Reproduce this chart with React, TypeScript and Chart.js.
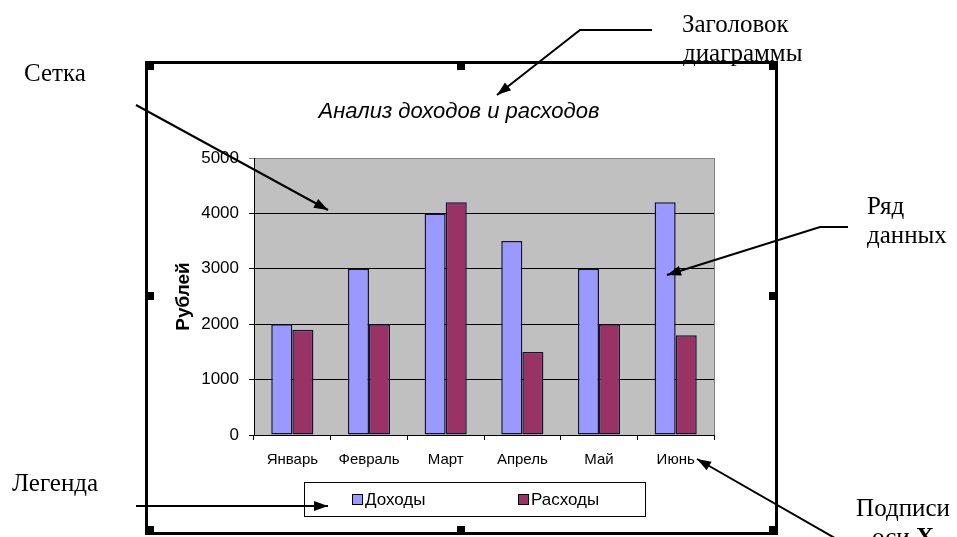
import React, { useEffect, useRef } from 'react';
import { Chart, registerables } from 'chart.js';

Chart.register(...registerables);

// ---- data ----
const categories = ['Январь', 'Февраль', 'Март', 'Апрель', 'Май', 'Июнь'];
const incomeValues = [2000, 3000, 4000, 3500, 3000, 4200];
const expenseValues = [1900, 2000, 4200, 1500, 2000, 1800];
const seriesNames = ['Доходы', 'Расходы'];
const yMin = 0;
const yMax = 5000;
const yStep = 1000;
const chartTitle = 'Анализ доходов и расходов';
const yAxisTitle = 'Рублей';
const noteTitle = ['Заголовок', 'диаграммы'];
const noteGrid = ['Сетка'];
const noteSeries = ['Ряд', 'данных'];
const noteLegend = ['Легенда'];
const noteAxis = ['Подписи', 'оси '];
const noteAxisBold = 'X';

const SANS = '"Liberation Sans", Arial, sans-serif';
const SERIF = '"Liberation Serif", "Times New Roman", serif';
const colors = ['#9999ff', '#993366'];

function drawArrow(ctx: CanvasRenderingContext2D, pts: number[][]) {
  ctx.save();
  ctx.strokeStyle = '#000';
  ctx.fillStyle = '#000';
  ctx.lineWidth = 2;
  ctx.beginPath();
  ctx.moveTo(pts[0][0], pts[0][1]);
  for (let i = 1; i < pts.length; i++) ctx.lineTo(pts[i][0], pts[i][1]);
  ctx.stroke();
  const [x1, y1] = pts[pts.length - 2];
  const [x2, y2] = pts[pts.length - 1];
  const a = Math.atan2(y2 - y1, x2 - x1);
  const L = 14, W = 5;
  ctx.beginPath();
  ctx.moveTo(x2, y2);
  ctx.lineTo(x2 - L * Math.cos(a) + W * Math.sin(a), y2 - L * Math.sin(a) - W * Math.cos(a));
  ctx.lineTo(x2 - L * Math.cos(a) - W * Math.sin(a), y2 - L * Math.sin(a) + W * Math.cos(a));
  ctx.closePath();
  ctx.fill();
  ctx.restore();
}

const decorPlugin = {
  id: 'decor',
  beforeDraw(chart: any) {
    const { ctx, chartArea } = chart;
    ctx.save();
    ctx.fillStyle = '#fff';
    ctx.fillRect(0, 0, chart.width, chart.height);
    ctx.fillStyle = '#c0c0c0';
    ctx.fillRect(chartArea.left, chartArea.top, chartArea.right - chartArea.left, chartArea.bottom - chartArea.top);
    ctx.strokeStyle = '#808080';
    ctx.lineWidth = 1;
    ctx.beginPath();
    ctx.moveTo(chartArea.right + 0.5, chartArea.top);
    ctx.lineTo(chartArea.right + 0.5, chartArea.bottom);
    ctx.stroke();
    ctx.restore();
  },
  afterDraw(chart: any) {
    const { ctx } = chart;
    ctx.save();
    // chart title
    ctx.fillStyle = '#000';
    ctx.font = `italic 22px ${SANS}`;
    ctx.textAlign = 'center';
    ctx.textBaseline = 'alphabetic';
    ctx.fillText(chartTitle, 459, 118);

    // legend
    ctx.strokeStyle = '#000';
    ctx.lineWidth = 1;
    ctx.fillStyle = '#fff';
    ctx.fillRect(304.5, 482.5, 341, 34);
    ctx.strokeRect(304.5, 482.5, 341, 34);
    const lx = [352, 518];
    ctx.font = `17px ${SANS}`;
    ctx.textAlign = 'left';
    ctx.textBaseline = 'middle';
    chart.data.datasets.forEach((ds: any, i: number) => {
      ctx.fillStyle = ds.backgroundColor;
      ctx.fillRect(lx[i] + 0.5, 494.5, 10, 10);
      ctx.strokeStyle = '#000';
      ctx.strokeRect(lx[i] + 0.5, 494.5, 10, 10);
      ctx.fillStyle = '#000';
      ctx.fillText(ds.label, lx[i] + 13, 500);
    });

    // frame
    ctx.strokeStyle = '#000';
    ctx.lineWidth = 3;
    ctx.strokeRect(146.5, 62.5, 630, 471);
    ctx.fillStyle = '#000';
    const hs = 8;
    const handles = [
      [146, 62], [457, 62], [769, 62],
      [146, 292], [769, 292],
      [146, 526], [457, 526], [769, 526],
    ];
    handles.forEach(([x, y]) => ctx.fillRect(x, y, hs, hs));

    // annotations
    ctx.fillStyle = '#000';
    ctx.font = `25px ${SERIF}`;
    ctx.textBaseline = 'alphabetic';
    ctx.textAlign = 'left';
    ctx.fillText(noteTitle[0], 682, 32);
    ctx.fillText(noteTitle[1], 683, 61);
    ctx.fillText(noteGrid[0], 24, 81);
    ctx.fillText(noteSeries[0], 867, 214);
    ctx.fillText(noteSeries[1], 867, 243);
    ctx.fillText(noteLegend[0], 12, 491);
    ctx.textAlign = 'center';
    ctx.fillText(noteAxis[0], 903, 516);
    const w1 = ctx.measureText(noteAxis[1]).width;
    ctx.font = `bold 25px ${SERIF}`;
    const w2 = ctx.measureText(noteAxisBold).width;
    const sx = 903 - (w1 + w2) / 2;
    ctx.textAlign = 'left';
    ctx.font = `25px ${SERIF}`;
    ctx.fillText(noteAxis[1], sx, 545);
    ctx.font = `bold 25px ${SERIF}`;
    ctx.fillText(noteAxisBold, sx + w1, 545);

    // arrows
    drawArrow(ctx, [[652, 30], [580, 30], [497, 95]]);
    drawArrow(ctx, [[136, 105], [328, 210]]);
    drawArrow(ctx, [[848, 227], [820, 227], [667, 275]]);
    drawArrow(ctx, [[136, 506], [328, 506]]);
    drawArrow(ctx, [[840, 541], [697, 459]]);
    ctx.restore();
  },
};

export default function App() {
  const ref = useRef<HTMLCanvasElement | null>(null);
  useEffect(() => {
    if (!ref.current) return;
    const chart = new Chart(ref.current, {
      type: 'bar',
      data: {
        labels: categories,
        datasets: [
          {
            label: seriesNames[0],
            data: incomeValues,
            backgroundColor: colors[0],
            borderColor: '#14142e',
            borderWidth: 1.5,
            borderSkipped: false,
          },
          {
            label: seriesNames[1],
            data: expenseValues,
            backgroundColor: colors[1],
            borderColor: '#14142e',
            borderWidth: 1.5,
            borderSkipped: false,
          },
        ],
      },
      options: {
        responsive: false,
        animation: false,
        events: [],
        layout: { padding: { left: 170, top: 158, right: 243, bottom: 62 } },
        datasets: { bar: { categoryPercentage: 0.55, barPercentage: 1 } },
        plugins: { legend: { display: false }, title: { display: false }, tooltip: { enabled: false } },
        scales: {
          x: {
            offset: true,
            afterFit: (s: any) => { s.height = 40; },
            grid: { offset: true, drawOnChartArea: false, drawTicks: true, tickLength: 5, color: '#000' },
            border: { color: '#000', width: 1 },
            ticks: { color: '#000', font: { size: 15, family: SANS }, padding: 11, maxRotation: 0 },
          },
          y: {
            min: yMin,
            max: yMax,
            afterFit: (s: any) => { s.width = 84; },
            grid: {
              color: (c: any) => (c.tick && c.tick.value === yMax ? '#808080' : '#000'),
              lineWidth: 1,
              tickLength: 5,
              drawTicks: true,
            },
            border: { color: '#000', width: 1 },
            ticks: {
              stepSize: yStep,
              color: '#000',
              font: { size: 17, family: SANS },
              padding: 10,
              callback: (v: any) => String(v),
            },
            title: {
              display: true,
              text: yAxisTitle,
              color: '#000',
              font: { size: 19, weight: 'bold', family: SANS },
              padding: { top: 2, bottom: 0 },
            },
          },
        },
      },
      plugins: [decorPlugin],
    });
    return () => chart.destroy();
  }, []);
  return (
    <div style={{ position: 'fixed', left: 0, top: 0, width: 957, height: 537, background: '#fff' }}>
      <canvas ref={ref} width={957} height={537} style={{ display: 'block', width: 957, height: 537 }} />
    </div>
  );
}
